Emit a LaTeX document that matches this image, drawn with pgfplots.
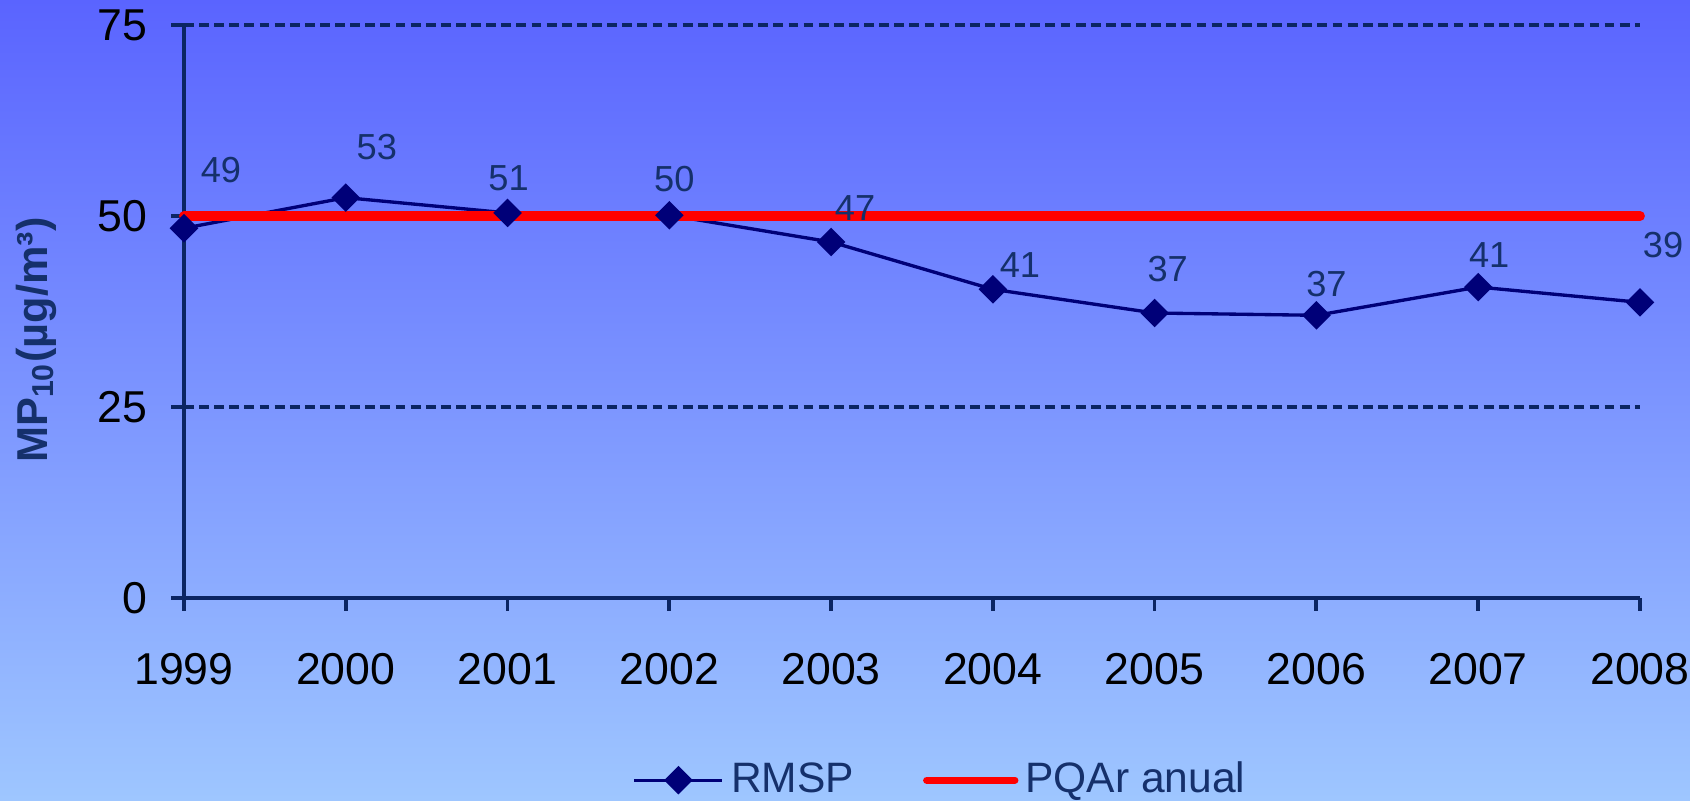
\documentclass[border=0pt]{standalone}
\usepackage{fontspec}
\setmainfont{Liberation Sans}
\usepackage{pgfplots}
\pgfplotsset{compat=1.18}
\definecolor{bgtop}{HTML}{5A64FF}
\definecolor{bgbot}{HTML}{9EC6FF}
\definecolor{axisnavy}{HTML}{0B2563}
\definecolor{labnavy}{HTML}{15306B}
\definecolor{linenavy}{HTML}{000078}
\definecolor{limitred}{HTML}{FF0000}

\begin{document}
\begin{tikzpicture}
% page background
\shade[top color=bgtop, bottom color=bgbot] (0,0) rectangle (16.9,8);
\begin{axis}[
    scale only axis,
    width=14.56cm, height=5.73cm,
    at={(1.84cm,2.02cm)}, anchor=south west,
    axis lines*=left,
    axis line style={axisnavy, line width=1.1pt},
    xmin=1999, xmax=2008,
    ymin=0, ymax=75,
    xtick={1999,...,2008},
    ytick={0,25,50,75},
    tick align=outside,
    major tick length=0.13cm,
    every tick/.style={axisnavy, line width=1.1pt},
    ymajorgrids=true,
    grid style={axisnavy, line width=0.9pt, dash pattern=on 2.8pt off 1.5pt},
    /pgf/number format/assume math mode=true,
    /pgf/number format/1000 sep={},
    x tick label style={font=\fontsize{12.7}{14}\selectfont, text=black, yshift=-0.3cm},
    y tick label style={font=\fontsize{12.7}{14}\selectfont, text=black, xshift=-0.11cm},
    ylabel={\textbf{MP\textsubscript{10}(µg/m³)}},
    ylabel style={at={(axis description cs:-0.1016,0.45)}, anchor=center,
        font=\fontsize{12.3}{14}\selectfont, text=labnavy},
    clip=false,
    legend columns=2,
    legend style={at={(axis description cs:0.521,-0.318)}, anchor=center,
        draw=none, fill=none, font=\fontsize{12.1}{14}\selectfont, text=labnavy,
        /tikz/every even column/.append style={column sep=0.62cm}},
    legend image code/.code={
        \draw[#1] (0cm,0cm) -- (0.88cm,0cm);
        \draw[#1, mark repeat=2, mark phase=2] plot coordinates {(0cm,0cm) (0.44cm,0cm) (0.88cm,0cm)};
    },
]
\addplot[color=linenavy, line width=0.95pt, mark=square*, mark size=2.4pt,
    mark options={fill=linenavy, draw=linenavy, rotate=45},
    nodes near coords, point meta=explicit symbolic,
    visualization depends on={value \thisrow{dx} \as \labdx},
    visualization depends on={value \thisrow{dy} \as \labdy},
    every node near coord/.append style={anchor=center, xshift=\labdx cm, yshift=\labdy cm,
        font=\fontsize{10.3}{12}\selectfont, text=labnavy}]
    table[meta=label] {
    x    y    label dx   dy
    1999 48.4 49    0.37 0.58
    2000 52.4 53    0.31 0.51
    2001 50.4 51    0.01 0.35
    2002 50.1 50    0.05 0.36
    2003 46.6 47    0.24 0.34
    2004 40.4 41    0.27 0.24
    2005 37.3 37    0.13 0.44
    2006 37.0 37    0.10 0.31
    2007 40.7 41    0.11 0.32
    2008 38.7 39    0.23 0.57
};
\addlegendentry{RMSP}
\addplot[color=limitred, line width=2.8pt, line cap=round,
    legend image code/.code={\draw[limitred, line width=2.1pt, line cap=round] (0cm,0cm) -- (0.88cm,0cm);}]
    coordinates {(1999,50) (2008,50)};
\addlegendentry{PQAr anual}
\end{axis}
\pgfresetboundingbox
\path (0,0) rectangle (16.9,8);
\end{tikzpicture}
\end{document}
